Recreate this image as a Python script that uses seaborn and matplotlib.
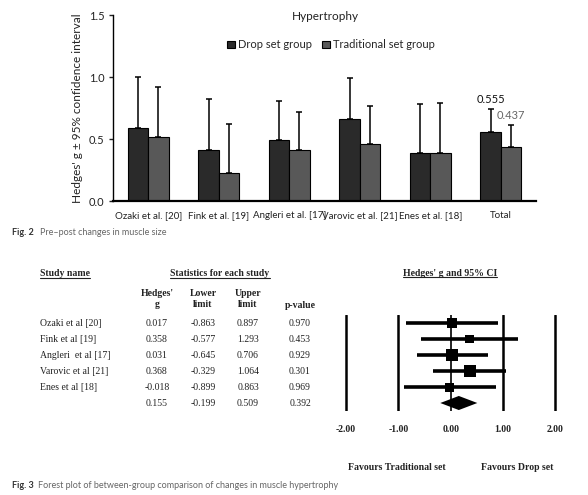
import matplotlib
matplotlib.use('Agg')
import matplotlib.pyplot as plt
import matplotlib.transforms as mtransforms
from matplotlib.lines import Line2D
import seaborn as sns
import pandas as pd

# Fig. 2 data (bar heights and upper 95% CI half-widths)
studies = ['Ozaki et al. [20]', 'Fink et al. [19]', 'Angleri et al. [17]',
           'Varovic et al. [21]', 'Enes et al. [18]', 'Total']
groups = ['Drop set group', 'Traditional set group']
drop_g = [0.586, 0.410, 0.490, 0.659, 0.385, 0.555]
drop_ci = [0.411, 0.410, 0.315, 0.331, 0.395, 0.185]
trad_g = [0.519, 0.228, 0.410, 0.460, 0.390, 0.437]
trad_ci = [0.398, 0.390, 0.310, 0.306, 0.398, 0.173]

# Fig. 3 forest table
fp_names = ['Ozaki et al [20]', 'Fink et al [19]', 'Angleri  et al [17]',
            'Varovic et al [21]', 'Enes et al [18]', '']
fp_g = [0.017, 0.358, 0.031, 0.368, -0.018, 0.155]
fp_lower = [-0.863, -0.577, -0.645, -0.329, -0.899, -0.199]
fp_upper = [0.897, 1.293, 0.706, 1.064, 0.863, 0.509]
fp_p = [0.970, 0.453, 0.929, 0.301, 0.969, 0.392]
fp_ticks = [-2, -1, 0, 1, 2]

SANS = ['Lato', 'DejaVu Sans']
SERIF = ['Liberation Serif', 'DejaVu Serif']

sns.set_style('white')
plt.rcParams['font.family'] = SANS

W, H = 588, 495
fig = plt.figure(figsize=(W / 100, H / 100), dpi=100)


def fx(px):
    return px / W


def fy(py):
    return 1 - py / H


# ---------------- Fig. 2 bar chart ----------------
ax = fig.add_axes([fx(113), fy(201), fx(536) - fx(113), fy(15) - fy(201)])
df = pd.DataFrame({
    'study': studies * 2,
    'group': [groups[0]] * len(studies) + [groups[1]] * len(studies),
    'g': drop_g + trad_g,
})
sns.barplot(data=df, x='study', y='g', hue='group', hue_order=groups,
            palette=['#2a2a2a', '#585858'], width=0.58, gap=0,
            edgecolor='black', linewidth=0.8, errorbar=None, ax=ax)

for cont, cis in zip(ax.containers, [drop_ci, trad_ci]):
    xs = [b.get_x() + b.get_width() / 2 for b in cont]
    hs = [b.get_height() for b in cont]
    ax.errorbar(xs, hs, yerr=[[0] * len(hs), cis], fmt='none', ecolor='black',
                elinewidth=1.1, capsize=2.2, capthick=1.1, zorder=3)

# value labels above the Total bars
for cont, cis, col in zip(ax.containers, [drop_ci, trad_ci], ['#111111', '#666666']):
    b = cont[-1]
    ax.text(b.get_x() + b.get_width() / 2, b.get_height() + cis[-1] + 0.035,
            f'{b.get_height():.3f}', ha='center', va='bottom', fontsize=8, color=col)

ax.set_xlim(-0.5, 5.5)
ax.set_ylim(0, 1.5)
ax.set_yticks([0, 0.5, 1.0, 1.5])
ax.set_yticklabels(['0.0', '0.5', '1.0', '1.5'])
ax.set_xlabel('')
ax.set_ylabel("Hedges' g \u00b1 95% confidence interval", fontsize=8.5, color='#222222', labelpad=4)
ax.tick_params(axis='y', direction='out', length=3, width=1, labelsize=8, colors='#222222', left=True, pad=3)
ax.tick_params(axis='x', length=0, labelsize=7, colors='#222222', pad=7)
for s in ['top', 'right']:
    ax.spines[s].set_visible(False)
ax.spines['left'].set_linewidth(1.0)
ax.spines['bottom'].set_linewidth(1.6)
ax.spines['left'].set_color('black')
ax.spines['bottom'].set_color('black')

handles, labels = ax.get_legend_handles_labels()
ax.legend(handles, labels, ncol=2, loc='center', bbox_to_anchor=(0.515, 0.839),
          frameon=False, fontsize=8, handlelength=0.7, handleheight=0.7,
          handletextpad=0.3, columnspacing=0.9)
ax.text(0.501, 0.99, 'Hypertrophy', transform=ax.transAxes, ha='center', va='center',
        fontsize=8.5, color='#222222')

fig.text(fx(12), fy(233), 'Fig. 2', fontsize=6.5, fontweight='bold', color='#333333', va='center')
fig.text(fx(40), fy(233), 'Pre\u2013post changes in muscle size', fontsize=6.5,
         color='#666666', va='center')

# ---------------- Fig. 3 forest plot ----------------
ax2 = fig.add_axes([fx(330.4), fy(411), fx(240.6), fy(315) - fy(411)])
rows = list(range(len(fp_g)))
ax2.hlines(rows[:-1], fp_lower[:-1], fp_upper[:-1], color='black', lw=2.6, zorder=2)
square_side = [10, 8.5, 12, 12, 9]
sq = pd.DataFrame({'g': fp_g[:-1], 'row': rows[:-1],
                   's': [(v * 0.72) ** 2 for v in square_side]})
sns.scatterplot(data=sq, x='g', y='row', size='s', sizes=(sq.s.min(), sq.s.max()),
                marker='s', color='black', edgecolor='black', linewidth=0,
                legend=False, ax=ax2, zorder=3)
r = rows[-1]
ax2.fill([fp_lower[-1], fp_g[-1], fp_upper[-1], fp_g[-1]], [r, r - 0.44, r, r + 0.44],
         color='black', lw=0, zorder=3)
for t in fp_ticks:
    ax2.axvline(t, color='black', lw=1.2 if t == 0 else 1.8, zorder=1)
ax2.set_xlim(-2.3, 2.3)
ax2.set_ylim(5.5, -0.5)
ax2.set_xticks(fp_ticks)
ax2.set_xticklabels([f'{t:.2f}' for t in fp_ticks], family=SERIF, fontweight='bold', fontsize=7)
ax2.set_yticks([])
ax2.tick_params(axis='x', length=0, pad=10, colors='#222222')
ax2.set_xlabel('')
ax2.set_ylabel('')
for s in ax2.spines.values():
    s.set_visible(False)

tr = mtransforms.blended_transform_factory(fig.transFigure, ax2.transData)
cols = [(fx(157), fp_g), (fx(203), fp_lower), (fx(248), fp_upper), (fx(300), fp_p)]
for i in rows:
    fig.text(fx(40), i, fp_names[i], transform=tr, family=SERIF, fontsize=7,
             va='center', ha='left', color='#222222')
    for xc, vals in cols:
        fig.text(xc, i, f'{vals[i]:.3f}', transform=tr, family=SERIF, fontsize=7,
                 va='center', ha='center', color='#222222')

hdr = dict(family=SERIF, fontweight='bold', fontsize=7, color='#222222', ha='center', va='center')
fig.text(fx(157), fy(299), "Hedges'\ng", linespacing=1.3, **hdr)
fig.text(fx(203), fy(299), 'Lower\nlimit', linespacing=1.3, **hdr)
fig.text(fx(248), fy(299), 'Upper\nlimit', linespacing=1.3, **hdr)
fig.text(fx(300), fy(305), 'p-value', **hdr)
fig.text(fx(397), fy(468), 'Favours Traditional set', **hdr)
fig.text(fx(517), fy(468), 'Favours Drop set', **hdr)

underlined = [
    fig.text(fx(40), fy(274), 'Study name', family=SERIF, fontweight='bold', fontsize=7,
             color='#222222', ha='left', va='center'),
    fig.text(fx(220), fy(274), 'Statistics for each study', **hdr),
    fig.text(fx(450), fy(273), "Hedges' g and 95% CI", **hdr),
]
fig.canvas.draw()
inv = fig.transFigure.inverted()
for t in underlined:
    bb = t.get_window_extent().transformed(inv)
    fig.add_artist(Line2D([bb.x0, bb.x1], [bb.y0 + 0.001, bb.y0 + 0.001],
                          transform=fig.transFigure, color='#222222', lw=0.8))

fig.text(fx(12), fy(485), 'Fig. 3', fontsize=6.5, fontweight='bold', color='#333333', va='center')
fig.text(fx(38), fy(485), 'Forest plot of between-group comparison of changes in muscle hypertrophy',
         fontsize=6.5, color='#666666', va='center')

fig.savefig('out.png', dpi=100)
